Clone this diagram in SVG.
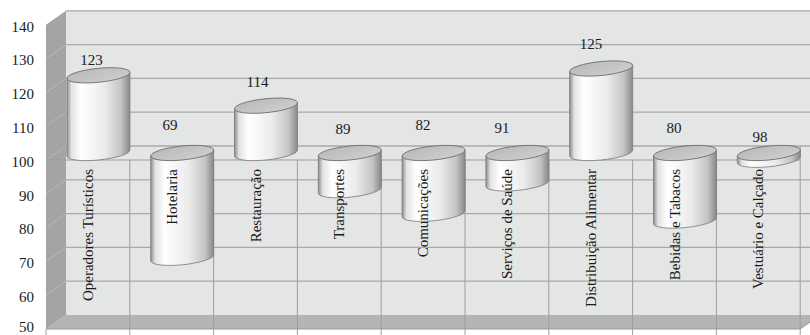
<svg xmlns="http://www.w3.org/2000/svg" width="810" height="335" viewBox="0 0 810 335">
<defs>
<linearGradient id="cylGrad" x1="0" y1="0" x2="1" y2="0">
<stop offset="0" stop-color="#8c8c8c"/>
<stop offset="0.07" stop-color="#e2e2e2"/>
<stop offset="0.22" stop-color="#ffffff"/>
<stop offset="0.6" stop-color="#ebebeb"/>
<stop offset="0.86" stop-color="#c4c4c4"/>
<stop offset="1" stop-color="#888888"/>
</linearGradient>
<linearGradient id="capGrad" x1="0" y1="0" x2="1" y2="1">
<stop offset="0" stop-color="#b8b8b8"/>
<stop offset="1" stop-color="#d0d0d0"/>
</linearGradient>
</defs>
<style>
.wall{fill:#e4e5e5;}
.side{fill:#a2a4a6;}
.floor{fill:#b2b4b6;}
.grid{stroke:#a8a9aa;stroke-width:1.3;fill:none;}
.sgrid{stroke:#b9babb;stroke-width:1;fill:none;}
.vgrid{stroke:#9c9d9e;stroke-width:1;fill:none;}
.edge{stroke:#9a9b9c;stroke-width:1;fill:none;}
.body{fill:url(#cylGrad);stroke:#7a7a7a;stroke-width:0.8;}
.cap{fill:url(#capGrad);stroke:#6e6e6e;stroke-width:0.9;}
.txt text{font-size:15px;fill:#1a1a1a;}
.val{text-anchor:middle;}
.ax{text-anchor:end;}
.cat{text-anchor:end;}
</style>
<rect x="0" y="0" width="810" height="335" fill="#ffffff"/>
<g id="chart-walls">
<rect class="wall" x="66" y="10.8" width="744" height="304.2"/>
<g id="back-grid">
<line class="grid" x1="66" y1="10.8" x2="810" y2="10.8"/>
<line class="grid" x1="66" y1="44.6" x2="810" y2="44.6"/>
<line class="grid" x1="66" y1="78.4" x2="810" y2="78.4"/>
<line class="grid" x1="66" y1="112.2" x2="810" y2="112.2"/>
<line class="grid" x1="66" y1="146" x2="810" y2="146"/>
<line class="grid" x1="66" y1="179.8" x2="810" y2="179.8"/>
<line class="grid" x1="66" y1="213.6" x2="810" y2="213.6"/>
<line class="grid" x1="66" y1="247.4" x2="810" y2="247.4"/>
<line class="grid" x1="66" y1="281.2" x2="810" y2="281.2"/>
</g>
<polygon class="side" points="46,24.8 66,10.8 66,315 46,329"/>
<g id="side-grid">
<line class="sgrid" x1="46" y1="58.6" x2="66" y2="44.6"/>
<line class="sgrid" x1="46" y1="92.4" x2="66" y2="78.4"/>
<line class="sgrid" x1="46" y1="126.2" x2="66" y2="112.2"/>
<line class="sgrid" x1="46" y1="160" x2="66" y2="146"/>
<line class="sgrid" x1="46" y1="193.8" x2="66" y2="179.8"/>
<line class="sgrid" x1="46" y1="227.6" x2="66" y2="213.6"/>
<line class="sgrid" x1="46" y1="261.4" x2="66" y2="247.4"/>
<line class="sgrid" x1="46" y1="295.2" x2="66" y2="281.2"/>
</g>
<polygon class="floor" points="46,329 66,315 821,315 800.2,329"/>
</g>
<g id="connectors">
<line class="edge" x1="46" y1="160" x2="800.2" y2="160"/>
<line class="edge" x1="46" y1="329" x2="800.2" y2="329"/>
<line class="edge" x1="800.2" y1="329" x2="810" y2="322.2"/>
<line class="vgrid" x1="46" y1="329" x2="46" y2="335"/>
<line class="vgrid" x1="129.8" y1="160" x2="129.8" y2="335"/>
<line class="vgrid" x1="213.6" y1="160" x2="213.6" y2="335"/>
<line class="vgrid" x1="297.4" y1="160" x2="297.4" y2="335"/>
<line class="vgrid" x1="381.2" y1="160" x2="381.2" y2="335"/>
<line class="vgrid" x1="465" y1="160" x2="465" y2="335"/>
<line class="vgrid" x1="548.8" y1="160" x2="548.8" y2="335"/>
<line class="vgrid" x1="632.6" y1="160" x2="632.6" y2="335"/>
<line class="vgrid" x1="716.4" y1="160" x2="716.4" y2="335"/>
<line class="vgrid" x1="800.2" y1="146" x2="800.2" y2="335"/>
</g>
<g id="bar-operadores" transform="translate(98.4,0) skewY(-5.5)">
<path class="body" d="M-31.5,75.3 V153 A31.5,7 0 0 0 31.5,153 V75.3 Z"/>
<ellipse class="cap" cx="0" cy="75.3" rx="31.5" ry="7"/>
</g>
<g id="bar-hotelaria" transform="translate(182.2,0) skewY(-5.5)">
<path class="body" d="M-31.5,153 V257.8 A31.5,7 0 0 0 31.5,257.8 V153 Z"/>
<ellipse class="cap" cx="0" cy="153" rx="31.5" ry="7"/>
</g>
<g id="bar-restauracao" transform="translate(266,0) skewY(-5.5)">
<path class="body" d="M-31.5,105.7 V153 A31.5,7 0 0 0 31.5,153 V105.7 Z"/>
<ellipse class="cap" cx="0" cy="105.7" rx="31.5" ry="7"/>
</g>
<g id="bar-transportes" transform="translate(349.8,0) skewY(-5.5)">
<path class="body" d="M-31.5,153 V190.2 A31.5,7 0 0 0 31.5,190.2 V153 Z"/>
<ellipse class="cap" cx="0" cy="153" rx="31.5" ry="7"/>
</g>
<g id="bar-comunicacoes" transform="translate(433.6,0) skewY(-5.5)">
<path class="body" d="M-31.5,153 V213.8 A31.5,7 0 0 0 31.5,213.8 V153 Z"/>
<ellipse class="cap" cx="0" cy="153" rx="31.5" ry="7"/>
</g>
<g id="bar-saude" transform="translate(517.4,0) skewY(-5.5)">
<path class="body" d="M-31.5,153 V183.4 A31.5,7 0 0 0 31.5,183.4 V153 Z"/>
<ellipse class="cap" cx="0" cy="153" rx="31.5" ry="7"/>
</g>
<g id="bar-distribuicao" transform="translate(601.2,0) skewY(-5.5)">
<path class="body" d="M-31.5,68.5 V153 A31.5,7 0 0 0 31.5,153 V68.5 Z"/>
<ellipse class="cap" cx="0" cy="68.5" rx="31.5" ry="7"/>
</g>
<g id="bar-bebidas" transform="translate(685,0) skewY(-5.5)">
<path class="body" d="M-31.5,153 V220.6 A31.5,7 0 0 0 31.5,220.6 V153 Z"/>
<ellipse class="cap" cx="0" cy="153" rx="31.5" ry="7"/>
</g>
<g id="bar-vestuario" transform="translate(768.8,0) skewY(-5.5)">
<path class="body" d="M-31.5,153 V159.8 A31.5,7 0 0 0 31.5,159.8 V153 Z"/>
<ellipse class="cap" cx="0" cy="153" rx="31.5" ry="7"/>
</g>
<g class="txt" font-family="'Liberation Serif', Tinos, 'DejaVu Serif', serif">
<g id="value-labels">
<text class="val" x="91.5" y="65">123</text>
<text class="val" x="170" y="130">69</text>
<text class="val" x="257.5" y="87">114</text>
<text class="val" x="343" y="134">89</text>
<text class="val" x="423" y="130">82</text>
<text class="val" x="502" y="133">91</text>
<text class="val" x="591" y="49">125</text>
<text class="val" x="674" y="133">80</text>
<text class="val" x="760" y="142">98</text>
</g>
<g id="category-labels">
<text class="cat" transform="translate(93,169) rotate(-90)">Operadores Turísticos</text>
<text class="cat" transform="translate(176.7,169) rotate(-90)">Hotelaria</text>
<text class="cat" transform="translate(260.5,169) rotate(-90)">Restauração</text>
<text class="cat" transform="translate(344.3,169) rotate(-90)">Transportes</text>
<text class="cat" transform="translate(428.1,169) rotate(-90)">Comunicações</text>
<text class="cat" transform="translate(511.9,169) rotate(-90)">Serviços de Saúde</text>
<text class="cat" transform="translate(595.7,169) rotate(-90)">Distribuição Alimentar</text>
<text class="cat" transform="translate(679.5,169) rotate(-90)">Bebidas e Tabacos</text>
<text class="cat" transform="translate(763.3,169) rotate(-90)">Vestuário e Calçado</text>
</g>
<g id="axis-labels">
<text class="ax" x="34" y="31.5">140</text>
<text class="ax" x="34" y="65.3">130</text>
<text class="ax" x="34" y="99.1">120</text>
<text class="ax" x="34" y="132.9">110</text>
<text class="ax" x="34" y="166.7">100</text>
<text class="ax" x="34" y="200.5">90</text>
<text class="ax" x="34" y="234.3">80</text>
<text class="ax" x="34" y="268.1">70</text>
<text class="ax" x="34" y="301.9">60</text>
<text class="ax" x="34" y="331.5">50</text>
</g>
</g>
</svg>
